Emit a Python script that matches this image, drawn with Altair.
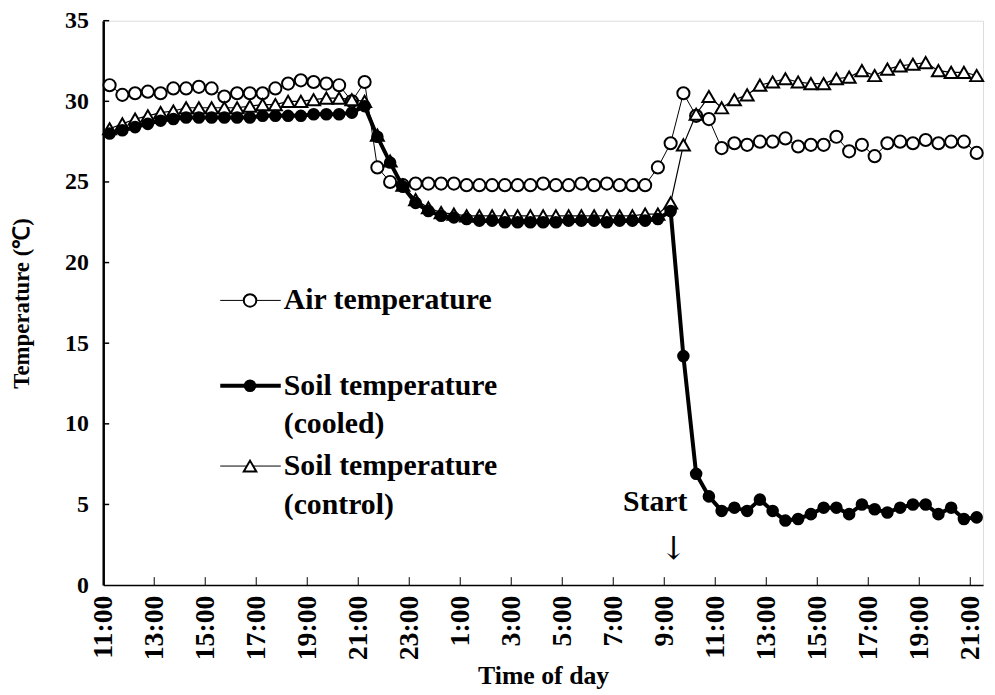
import altair as alt
import pandas as pd

FONT = "Liberation Serif"

tick_labels = ["11:00", "13:00", "15:00", "17:00", "19:00", "21:00", "23:00", "1:00", "3:00",
               "5:00", "7:00", "9:00", "11:00", "13:00", "15:00", "17:00", "19:00", "21:00"]
y_ticks = [0, 5, 10, 15, 20, 25, 30, 35]

air = [31.0, 30.4, 30.5, 30.6, 30.5, 30.8, 30.8, 30.9, 30.8, 30.3, 30.5, 30.5, 30.5, 30.8, 31.1,
       31.3, 31.2, 31.1, 31.0, 30.0, 31.2, 25.9, 25.0, 24.8,
       24.9, 24.9, 24.9, 24.9, 24.8, 24.8, 24.8, 24.8, 24.8, 24.8, 24.9, 24.8, 24.8, 24.9, 24.8,
       24.9, 24.8, 24.8,
       24.8, 25.9, 27.4, 30.5, 29.1, 28.9, 27.1, 27.4, 27.3, 27.5, 27.5, 27.7, 27.2, 27.3, 27.3,
       27.8, 26.9, 27.3, 26.6, 27.4, 27.5, 27.4, 27.6, 27.4, 27.5, 27.5, 26.8]

cooled = [28.0, 28.2, 28.4, 28.6, 28.8, 28.9, 29.0, 29.0, 29.0, 29.0, 29.0, 29.0, 29.1, 29.1,
          29.1, 29.1, 29.2, 29.2, 29.2, 29.3, 29.7, 27.8, 26.2, 24.7, 23.7, 23.2, 22.9, 22.8, 22.7,
          22.6, 22.6, 22.5, 22.5, 22.5, 22.5, 22.5, 22.6, 22.6, 22.6, 22.5, 22.6, 22.6, 22.6, 22.7,
          23.2, 14.2, 6.9, 5.5, 4.6, 4.8, 4.6, 5.3, 4.6, 4.0, 4.1, 4.4, 4.8, 4.8, 4.4, 5.0, 4.7,
          4.5, 4.8, 5.0, 5.0, 4.4, 4.8, 4.1, 4.2]

control = [28.3, 28.6, 28.9, 29.1, 29.3, 29.4, 29.6, 29.6, 29.6, 29.6, 29.6, 29.7, 29.8, 29.8,
           30.0, 30.0, 30.1, 30.2, 30.2, 30.1, 30.0, 27.9, 26.3, 24.8, 23.9, 23.4, 23.1, 23.0,
           22.9, 22.9, 22.9, 22.9, 22.9, 22.9, 22.9, 22.9, 22.9, 22.9, 22.9, 22.9, 22.9, 22.9,
           23.0, 23.0,
           23.7, 27.3, 29.2, 30.3, 29.6, 30.1, 30.4, 31.0, 31.2, 31.4, 31.2, 31.1, 31.1, 31.4,
           31.5, 31.9, 31.6, 32.0, 32.2, 32.3, 32.4, 31.9, 31.8, 31.8, 31.6]

# sampling grid: every 30 min starting 11:15 (hours after 11:00)
hours = [0.25 + 0.5 * i for i in range(len(air))]

W, H = 887, 569

xs = alt.Scale(domain=[0, 34.5], nice=False, zero=False)
ys = alt.Scale(domain=[0, 35], nice=False)

label_expr = str(tick_labels) + "[round(datum.value / 2)]"

x_enc = alt.X("h:Q", scale=xs, axis=alt.Axis(
    values=[2 * i for i in range(len(tick_labels))], labelExpr=label_expr,
    title="Time of day", labelAngle=270, ticks=False, grid=False,
    labelFont=FONT, labelFontSize=28, labelFontWeight="bold", labelPadding=10,
    titleFont=FONT, titleFontSize=26, titleFontWeight="bold",
    titleBaseline="middle", titleY=91,
    domainColor="black", domainWidth=1.5, labelColor="black", titleColor="black"))
y_enc = alt.Y("v:Q", scale=ys, axis=alt.Axis(
    values=y_ticks, title="Temperature (℃)", ticks=False, grid=False,
    labelFont=FONT, labelFontSize=24, labelFontWeight="bold", labelPadding=15,
    titleFont=FONT, titleFontSize=23, titleFontWeight="bold",
    titleX=-82, titleY=H / 2, titleAlign="center", titleBaseline="middle", titleAngle=270,
    domainColor="black", domainWidth=2.5, labelColor="black", titleColor="black"))

df_air = pd.DataFrame({"h": hours, "v": air})
df_cool = pd.DataFrame({"h": hours, "v": cooled})
df_ctrl = pd.DataFrame({"h": hours, "v": control})

air_line = alt.Chart(df_air).mark_line(color="black", strokeWidth=1).encode(x=x_enc, y=y_enc)
air_pts = alt.Chart(df_air).mark_point(shape="circle", size=150, fill="white", stroke="black",
                                       strokeWidth=2, opacity=1, fillOpacity=1).encode(x="h:Q", y="v:Q")
ctrl_line = alt.Chart(df_ctrl).mark_line(color="black", strokeWidth=1.2).encode(x="h:Q", y="v:Q")
ctrl_pts = alt.Chart(df_ctrl).mark_point(shape="triangle-up", size=170, fill="white", stroke="black",
                                         strokeWidth=2, opacity=1, fillOpacity=1).encode(x="h:Q", y="v:Q")
cool_line = alt.Chart(df_cool).mark_line(color="black", strokeWidth=4).encode(x="h:Q", y="v:Q")
cool_pts = alt.Chart(df_cool).mark_circle(size=160, color="black", opacity=1).encode(x="h:Q", y="v:Q")

# inside tick marks
ytick_df = pd.DataFrame({"v": y_ticks[1:]})
ytick = alt.Chart(ytick_df).mark_rule(color="black", strokeWidth=1.5).encode(
    y="v:Q", x=alt.value(0), x2=alt.value(6))
xtick_df = pd.DataFrame({"h": [2 * i for i in range(1, len(tick_labels))]})
xtick = alt.Chart(xtick_df).mark_rule(color="black", strokeWidth=1).encode(
    x="h:Q", y=alt.value(H - 8), y2=alt.value(H))

# legend (drawn inside the plot)
def legend_entry(yp, lines, shape, thick):
    layers = []
    layers.append(alt.Chart().mark_rule(color="black", strokeWidth=4 if thick else 1).encode(
        x=alt.value(118), x2=alt.value(179), y=alt.value(yp)))
    if shape == "filled":
        layers.append(alt.Chart().mark_circle(size=160, color="black", opacity=1).encode(
            x=alt.value(148), y=alt.value(yp)))
    else:
        layers.append(alt.Chart().mark_point(shape=shape, size=160, fill="white", stroke="black",
                                             strokeWidth=2, opacity=1, fillOpacity=1).encode(
            x=alt.value(148), y=alt.value(yp)))
    for k, t in enumerate(lines):
        layers.append(alt.Chart().mark_text(align="left", baseline="middle", font=FONT, fontSize=30,
                                            fontWeight="bold", color="black").encode(
            x=alt.value(182), y=alt.value(yp + 39 * k), text=alt.value(t)))
    return layers

leg = []
leg += legend_entry(282, ["Air temperature"], "circle", False)
leg += legend_entry(368, ["Soil temperature", "(cooled)"], "filled", True)
leg += legend_entry(449, ["Soil temperature", "(control)"], "triangle-up", False)

start_txt = alt.Chart().mark_text(align="right", baseline="middle", font=FONT, fontSize=30,
                                  fontWeight="bold", color="black").encode(
    x=alt.value(589), y=alt.value(485), text=alt.value("Start"))
arrow = alt.Chart().mark_text(align="center", baseline="middle", font="DejaVu Serif", fontSize=32,
                              color="black").encode(
    x=alt.value(575), y=alt.value(533), text=alt.value("↓"))

chart = alt.layer(air_line, air_pts, ctrl_line, ctrl_pts, cool_line, cool_pts, ytick, xtick,
                  *leg, start_txt, arrow).properties(
    width=W, height=H,
    autosize=alt.AutoSizeParams(type="none"),
    padding={"left": 96, "top": 10, "right": 4, "bottom": 106},
).configure_view(stroke=None).configure(background="white")

chart.save("out.html", embed_options={"renderer": "svg", "actions": False})
